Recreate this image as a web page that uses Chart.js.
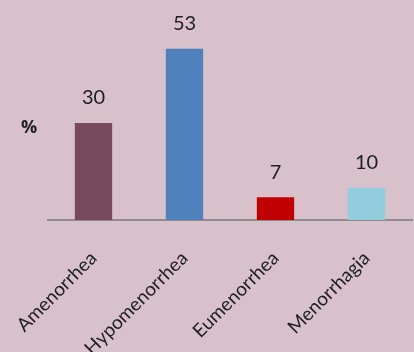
<!DOCTYPE html>
<html>
<head>
<meta charset="utf-8">
<script src="https://cdn.jsdelivr.net/npm/chart.js@4"></script>
<style>
  html, body { margin: 0; padding: 0; background: #d8c1ca; }
  #wrap { width: 414px; height: 352px; position: relative; }
</style>
</head>
<body>
<div id="wrap"><canvas id="myChart"></canvas></div>
<script>
// data
const categories = ['Amenorrhea', 'Hypomenorrhea', 'Eumenorrhea', 'Menorrhagia']
const percentValues = [30, 53, 7, 10]
const barColors = ['#764a5c', '#4f81bd', '#c00000', '#93cddd']
const yLabel = '%'

// value labels above bars + the % label
const valueLabels = {
    id: 'valueLabels',
    afterDatasetsDraw(chart) {
        const ctx = chart.ctx
        const meta = chart.getDatasetMeta(0)
        ctx.save()
        ctx.fillStyle = '#1f1f1f'
        ctx.font = '20px Lato'
        ctx.textAlign = 'center'
        ctx.textBaseline = 'middle'
        meta.data.forEach((bar, i) => {
            ctx.fillText(chart.data.datasets[0].data[i], bar.x, bar.y - 25)
        })
        ctx.font = 'bold 18px "Open Sans"'
        ctx.fillText(yLabel, 29, 128)
        ctx.restore()
    }
}

const chart = new Chart(document.getElementById('myChart').getContext('2d'), {
    type: 'bar',
    data: {
        labels: categories,
        datasets: [{
            data: percentValues,
            backgroundColor: barColors,
            borderWidth: 0,
            categoryPercentage: 1,
            barPercentage: 0.41
        }]
    },
    options: {
        responsive: true,
        maintainAspectRatio: false,
        animation: false,
        layout: { padding: { left: 48, right: 2, top: 26, bottom: 0 } },
        plugins: { legend: { display: false }, tooltip: { enabled: false } },
        scales: {
            x: {
                grid: { display: false, drawTicks: false },
                border: { display: true, color: '#8c8c8c', width: 2 },
                ticks: {
                    color: '#1f1f1f',
                    font: { family: 'Lato', size: 19 },
                    minRotation: 45,
                    maxRotation: 45,
                    padding: 27
                },
                afterFit(scale) {
                    // keep the axis at fixed size, labels may run off like in the original
                    scale.height = 132
                    scale.paddingLeft = 0
                    scale.paddingRight = 0
                }
            },
            y: {
                display: false,
                min: 0,
                max: 60
            }
        }
    },
    plugins: [valueLabels]
})
</script>
</body>
</html>
